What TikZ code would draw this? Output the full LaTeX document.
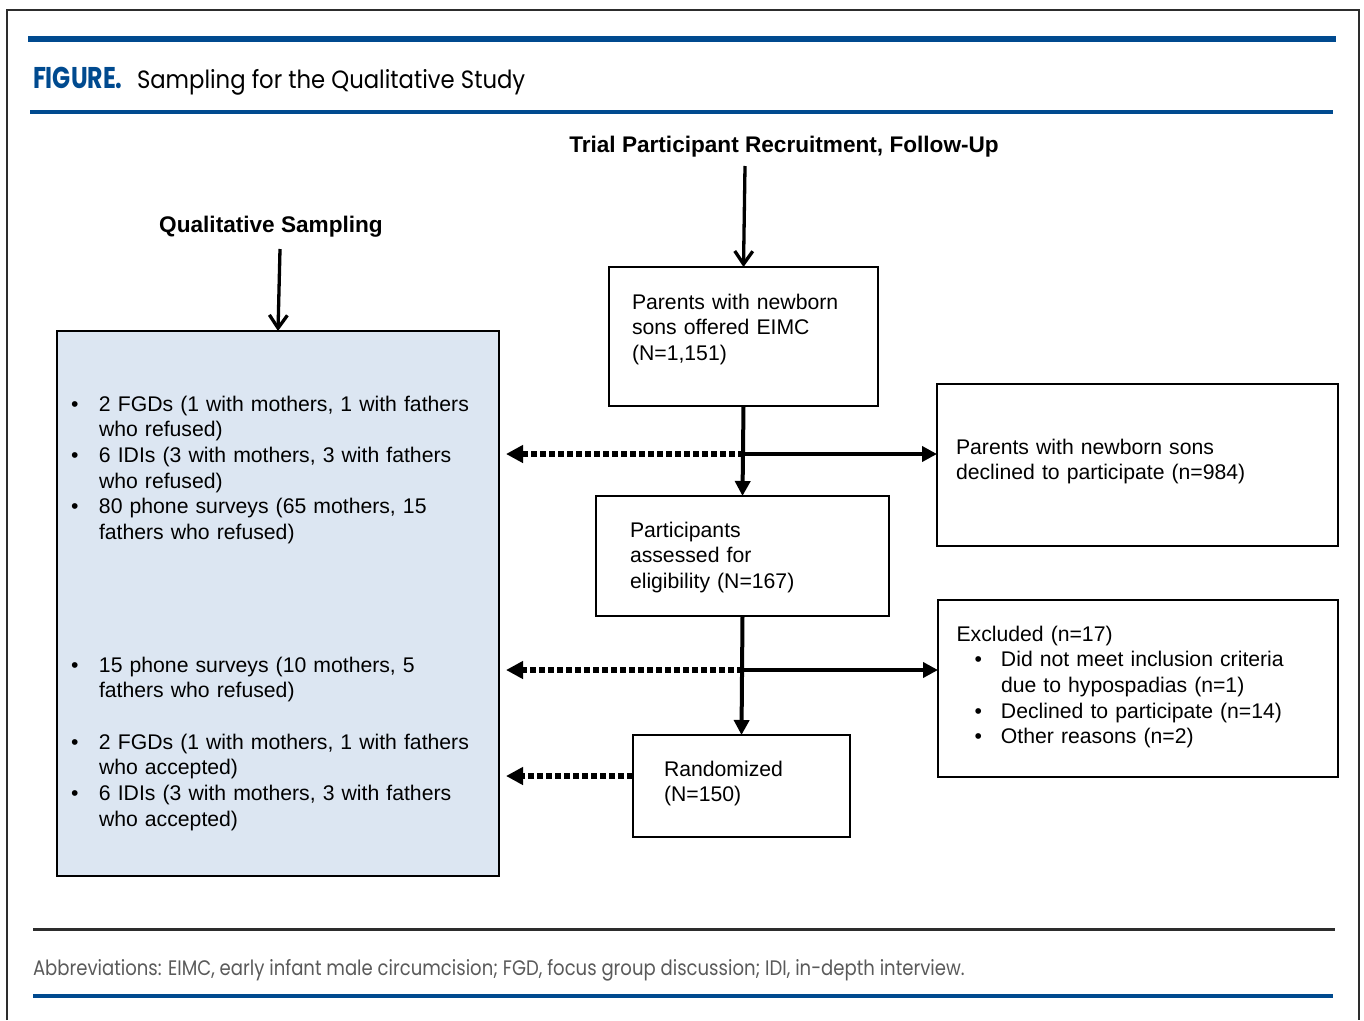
\documentclass[tikz,border=0pt]{standalone}
\usepackage{fontspec}
\setmainfont{Liberation Sans}
\newfontfamily\headfont{Poppins}
\usepackage{tikz}
\usetikzlibrary{arrows.meta,positioning}

\definecolor{hdrblue}{RGB}{0,74,143}
\definecolor{qualfill}{RGB}{220,230,242}
\definecolor{framegray}{RGB}{45,45,45}
\definecolor{notegray}{RGB}{90,90,90}

\newcommand{\bul}{\makebox[28pt][l]{\textbullet}}
\newcommand{\bulgap}{\hspace*{28pt}}

\begin{document}
\begin{tikzpicture}[x=1pt,y=-1pt,
    >={Triangle[length=15pt,width=15pt]},
    every node/.style={inner sep=0pt, outer sep=0pt},
    box/.style={draw, line width=2pt, anchor=north west},
    txt/.style={anchor=base west, align=left, text width=#1,
                font=\fontsize{21.2}{25.7}\selectfont},
    txt/.default=380pt,
    head/.style={anchor=base, font=\bfseries\fontsize{22.6}{27}\selectfont},
    flow/.style={->, line width=4pt},
    dots/.style={-{Triangle[length=17pt,width=17pt]}, line width=5.5pt,
                 dash pattern=on 6pt off 3pt, shorten >=7pt},
    down/.style={-{Straight Barb[length=13pt,width=18pt]}, line width=3.3pt}]
  \useasboundingbox (0,0) rectangle (1364,1020);

  % frame and rules
  \draw[framegray, line width=2.6pt] (7,1020) -- (7,10) -- (1359,10) -- (1359,1020);
  \draw[hdrblue, line width=5.5pt] (28,39) -- (1336,39);
  \draw[hdrblue, line width=4pt] (30,111.5) -- (1333,111.5);
  \draw[framegray, line width=3pt] (33,929) -- (1335,929);
  \draw[hdrblue, line width=4pt] (33,995.5) -- (1333,995.5);

  \node[anchor=base west, text=hdrblue, font=\headfont\bfseries\fontsize{30}{30}\selectfont]
    (figlabel) at (33,88) {\scalebox{0.79}[1]{FIGURE.}};
  \node[anchor=base west, font=\headfont\fontsize{25}{25}\selectfont]
    (figtitle) at (137,88) {\scalebox{0.91}[1]{Sampling for the Qualitative Study}};

  % headings
  \node[head] (trialhead) at (784,152) {Trial Participant Recruitment, Follow-Up};
  \node[head] (qualhead)  at (271,232) {Qualitative Sampling};
  \coordinate (trialfoot) at (745,166);
  \coordinate (qualfoot)  at (280,249);

  % boxes
  \node[box, fill=qualfill, line width=2.5pt, minimum width=442pt, minimum height=545pt]
    (qual) at (57,331) {};
  \node[box, minimum width=269pt, minimum height=139pt] (offered)    at (609,267) {};
  \node[box, minimum width=401pt, minimum height=162pt] (declined)   at (937,384) {};
  \node[box, minimum width=293pt, minimum height=120pt] (assessed)   at (596,496) {};
  \node[box, minimum width=400pt, minimum height=177pt] (excluded)   at (938,600) {};
  \node[box, minimum width=217pt, minimum height=102pt] (randomized) at (633,735) {};

  % texts
  \node[txt] (offeredtxt) at (632,309) {Parents with newborn\\sons offered EIMC\\(N=1,151)};
  \node[txt] (declinedtxt) at (956,454) {Parents with newborn sons\\declined to participate (n=984)};
  \node[txt] (assessedtxt) at (630,537) {Participants\\assessed for\\eligibility (N=167)};
  \node[txt] (excludedtxt) at (956.5,641) {Excluded (n=17)\\
    \hspace*{18pt}\makebox[26.5pt][l]{\textbullet}Did not meet inclusion criteria\\
    \hspace*{44.5pt}due to hypospadias (n=1)\\
    \hspace*{18pt}\makebox[26.5pt][l]{\textbullet}Declined to participate (n=14)\\
    \hspace*{18pt}\makebox[26.5pt][l]{\textbullet}Other reasons (n=2)};
  \node[txt] (randomizedtxt) at (664,776) {Randomized\\(N=150)};
  \node[txt=420pt] (qualrefused) at (71,411) {\bul 2 FGDs (1 with mothers, 1 with fathers\\
    \bulgap who refused)\\
    \bul 6 IDIs (3 with mothers, 3 with fathers\\
    \bulgap who refused)\\
    \bul 80 phone surveys (65 mothers, 15\\
    \bulgap fathers who refused)};
  \node[txt=420pt] (qualmixed) at (71,672) {\bul 15 phone surveys (10 mothers, 5\\
    \bulgap fathers who refused)\\[25.7pt]
    \bul 2 FGDs (1 with mothers, 1 with fathers\\
    \bulgap who accepted)\\
    \bul 6 IDIs (3 with mothers, 3 with fathers\\
    \bulgap who accepted)};

  % connectors
  \coordinate (split1) at (offered.south |- 0,454);
  \coordinate (split2) at (assessed.south |- 0,670);
  \draw[down] (trialfoot) -- (offered.north);
  \draw[down] (qualfoot) -- (qual.north);
  \draw[flow] (offered.south) -- (assessed.north);
  \draw[flow] (split1) -- (split1 -| declined.west);
  \draw[dots] (split1) -- (split1 -| qual.east);
  \draw[flow] (assessed.south) -- (randomized.north);
  \draw[flow] (split2) -- (split2 -| excluded.west);
  \draw[dots] (split2) -- (split2 -| qual.east);
  \draw[dots] ([yshift=10pt]randomized.west) -- ([yshift=10pt]randomized.west -| qual.east);

  \node[anchor=base west, text=notegray, font=\headfont\fontsize{21}{21}\selectfont]
    (abbrev) at (33,975) {\scalebox{0.86}[1]{Abbreviations: EIMC, early infant male circumcision; FGD, focus group discussion; IDI, in-depth interview.}};
\end{tikzpicture}
\end{document}
